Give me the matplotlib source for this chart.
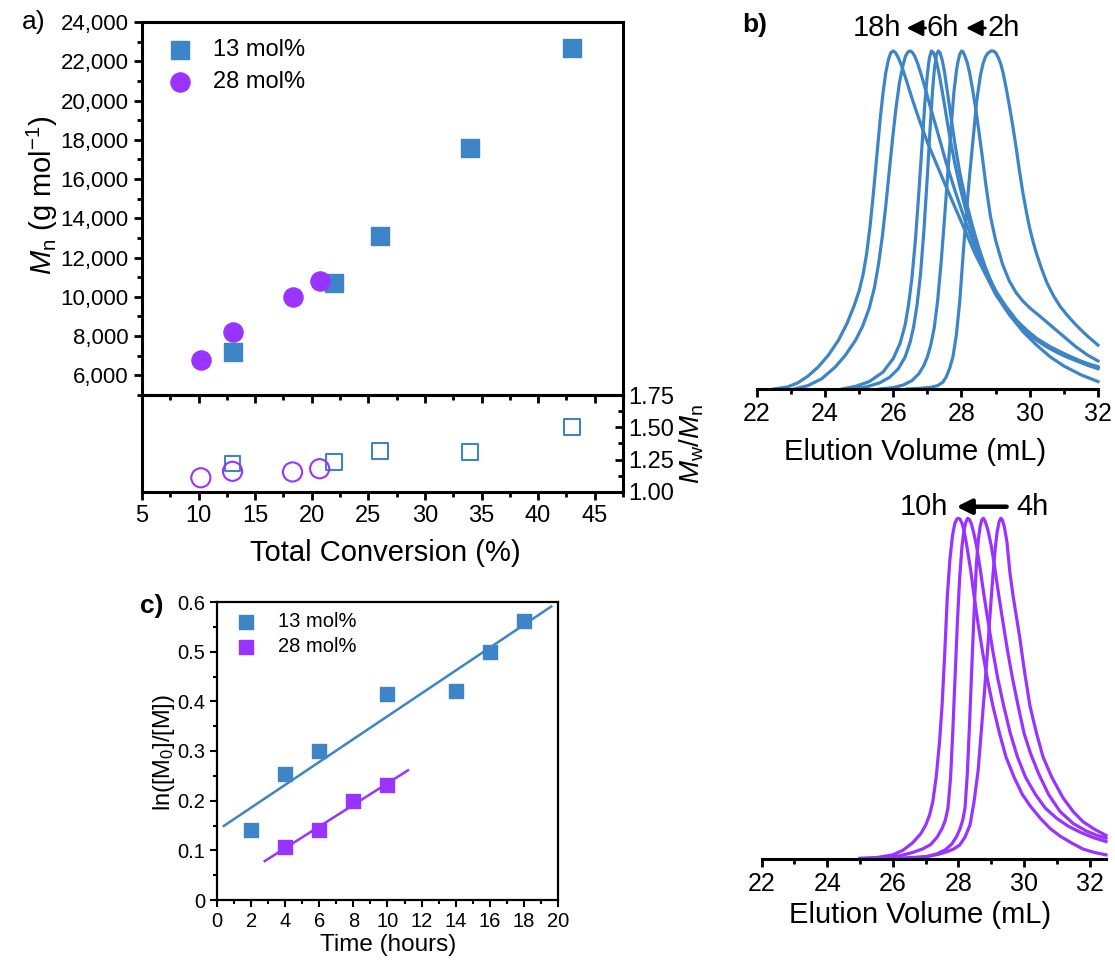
import matplotlib
matplotlib.use('Agg')
import matplotlib.pyplot as plt
import numpy as np
from matplotlib.ticker import MultipleLocator, StrMethodFormatter

plt.rcParams['font.family'] = ['Liberation Sans', 'DejaVu Sans']
plt.rcParams['mathtext.fontset'] = 'custom'
plt.rcParams['mathtext.rm'] = 'Liberation Sans'
plt.rcParams['mathtext.it'] = 'Liberation Sans:italic'

BLUE = '#3d85c6'
PURPLE = '#9933ff'

# ---- panel a data: Mn and dispersity vs total conversion
conv_13 = [13.0, 22.0, 26.0, 34.0, 43.0]
mn_13 = [7200, 10700, 13100, 17600, 22700]
disp_13 = [1.22, 1.23, 1.32, 1.307, 1.50]
conv_28 = [10.2, 13.0, 18.3, 20.7]
mn_28 = [6800, 8200, 10000, 10800]
disp_28 = [1.11, 1.16, 1.155, 1.18]

# ---- panel c data: kinetics
time_13 = [2, 4, 6, 10, 14, 16, 18]
lnm_13 = [0.14, 0.253, 0.30, 0.415, 0.42, 0.50, 0.562]
time_28 = [4, 6, 8, 10]
lnm_28 = [0.107, 0.14, 0.20, 0.232]
fit_range_13 = [0.4, 19.6]
fit_range_28 = [2.8, 11.2]

# ---- panel b data: GPC traces (normalised), 13 mol%
gpc13_a_x = [22.5, 22.9, 23.2, 23.5, 23.8, 24.1, 24.4, 24.65, 24.85, 25.0, 25.12, 25.22, 25.32, 25.42,
             25.52, 25.62, 25.7, 25.78, 25.86, 25.93, 26.0, 26.07, 26.15, 26.25, 26.38, 26.55, 26.75,
             27.0, 27.25, 27.5, 27.8, 28.1, 28.4, 28.7, 29.0, 29.4, 29.8, 30.2, 30.6, 31.0, 31.5, 32.0]
gpc13_a_y = [0.0, 0.006, 0.018, 0.038, 0.065, 0.1, 0.145, 0.195, 0.245, 0.29, 0.34, 0.4, 0.48, 0.58,
             0.69, 0.8, 0.875, 0.935, 0.975, 0.995, 1.0, 0.995, 0.98, 0.955, 0.915, 0.86, 0.8,
             0.73, 0.67, 0.61, 0.54, 0.47, 0.4, 0.34, 0.28, 0.22, 0.17, 0.13, 0.095, 0.068, 0.042, 0.022]
gpc13_b_x = [23.1, 23.5, 23.9, 24.3, 24.6, 24.9, 25.1, 25.3, 25.45, 25.57, 25.68, 25.78, 25.88, 25.98,
             26.08, 26.18, 26.28, 26.36, 26.44, 26.5, 26.56, 26.63, 26.72, 26.82, 26.95, 27.1, 27.3,
             27.55, 27.8, 28.1, 28.4, 28.7, 29.0, 29.3, 29.6, 29.9, 30.2, 30.6, 31.0, 31.5, 32.0]
gpc13_b_y = [0.0, 0.01, 0.03, 0.065, 0.1, 0.145, 0.185, 0.24, 0.3, 0.37, 0.45, 0.54, 0.64, 0.74,
             0.83, 0.905, 0.955, 0.985, 0.998, 1.0, 0.996, 0.985, 0.962, 0.93, 0.885, 0.83, 0.76,
             0.67, 0.59, 0.5, 0.42, 0.35, 0.29, 0.245, 0.205, 0.175, 0.15, 0.125, 0.105, 0.082, 0.062]
gpc13_c_x = [24.5, 24.9, 25.3, 25.7, 26.0, 26.2, 26.35, 26.45, 26.55, 26.65, 26.75, 26.85, 26.93, 27.0,
             27.06, 27.12, 27.18, 27.25, 27.33, 27.42, 27.52, 27.65, 27.8, 27.95, 28.1, 28.3, 28.5,
             28.75, 29.0, 29.3, 29.6, 29.9, 30.2, 30.5, 30.8, 31.1, 31.4, 31.7, 32.0]
gpc13_c_y = [0.0, 0.008, 0.022, 0.05, 0.09, 0.135, 0.19, 0.25, 0.33, 0.44, 0.58, 0.73, 0.85, 0.93,
             0.98, 1.0, 0.995, 0.975, 0.94, 0.89, 0.83, 0.75, 0.67, 0.6, 0.54, 0.47, 0.41,
             0.34, 0.29, 0.24, 0.2, 0.17, 0.145, 0.125, 0.108, 0.094, 0.082, 0.07, 0.06]
gpc13_d_x = [24.8, 25.2, 25.6, 25.9, 26.15, 26.35, 26.5, 26.6, 26.7, 26.8, 26.9, 27.0, 27.08, 27.15,
             27.21, 27.27, 27.32, 27.37, 27.43, 27.5, 27.6, 27.7, 27.8, 27.95, 28.1, 28.3, 28.5,
             28.7, 28.9, 29.1, 29.35, 29.6, 29.9, 30.2, 30.5, 30.8, 31.1, 31.4, 31.7, 32.0]
gpc13_d_y = [0.0, 0.006, 0.018, 0.035, 0.06, 0.095, 0.14, 0.185, 0.25, 0.34, 0.47, 0.63, 0.77, 0.88,
             0.95, 0.99, 1.0, 0.995, 0.975, 0.94, 0.87, 0.8, 0.73, 0.64, 0.57, 0.49, 0.42,
             0.36, 0.31, 0.27, 0.23, 0.2, 0.17, 0.145, 0.125, 0.11, 0.097, 0.086, 0.075, 0.066]
gpc13_e_x = [25.6, 26.0, 26.3, 26.55, 26.75, 26.9, 27.0, 27.1, 27.2, 27.3, 27.4, 27.5, 27.6, 27.7,
             27.78, 27.85, 27.9, 27.95, 28.0, 28.05, 28.1, 28.17, 28.24, 28.32, 28.4, 28.5, 28.6,
             28.72, 28.85, 29.0, 29.2, 29.4, 29.6, 29.8, 30.0, 30.3, 30.65, 31.0, 31.35, 31.7, 32.0]
gpc13_e_y = [0.0, 0.004, 0.012, 0.025, 0.045, 0.07, 0.095, 0.13, 0.18, 0.26, 0.37, 0.5, 0.64, 0.78,
             0.88, 0.94, 0.97, 0.99, 1.0, 0.997, 0.985, 0.965, 0.935, 0.89, 0.84, 0.77, 0.695,
             0.6, 0.51, 0.44, 0.37, 0.32, 0.285, 0.26, 0.24, 0.215, 0.185, 0.155, 0.125, 0.1, 0.083]
gpc13_f_x = [26.4, 26.8, 27.1, 27.3, 27.45, 27.55, 27.65, 27.75, 27.85, 27.95, 28.05, 28.15, 28.25,
             28.35, 28.45, 28.55, 28.63, 28.7, 28.76, 28.82, 28.87, 28.92, 28.97, 29.02, 29.08, 29.15,
             29.22, 29.3, 29.4, 29.5, 29.6, 29.7, 29.8, 29.9, 30.0, 30.1, 30.2, 30.35, 30.5, 30.7,
             30.9, 31.1, 31.35, 31.6, 31.8, 32.0]
gpc13_f_y = [0.0, 0.002, 0.005, 0.01, 0.02, 0.035, 0.06, 0.095, 0.16, 0.26, 0.4, 0.53, 0.645,
             0.75, 0.855, 0.925, 0.962, 0.982, 0.992, 0.997, 1.0, 1.0, 0.998, 0.992, 0.98, 0.962,
             0.935, 0.895, 0.84, 0.78, 0.715, 0.645, 0.58, 0.525, 0.475, 0.435, 0.4, 0.355, 0.315, 0.275,
             0.243, 0.218, 0.19, 0.165, 0.147, 0.13]

# ---- GPC traces, 28 mol%
gpc28_a_x = [25.0, 25.5, 26.0, 26.3, 26.6, 26.85, 27.0, 27.12, 27.22, 27.32, 27.42, 27.5, 27.58, 27.66,
             27.74, 27.82, 27.89, 27.95, 28.0, 28.05, 28.11, 28.18, 28.27, 28.37, 28.48, 28.6, 28.75,
             28.9, 29.05, 29.25, 29.45, 29.7, 29.95, 30.2, 30.5, 30.8, 31.1, 31.45, 31.8, 32.15, 32.5]
gpc28_a_y = [0.003, 0.005, 0.013, 0.026, 0.048, 0.075, 0.1, 0.13, 0.17, 0.24, 0.34, 0.45, 0.6, 0.77,
             0.88, 0.95, 0.985, 0.998, 1.0, 0.997, 0.985, 0.96, 0.91, 0.85, 0.77, 0.69, 0.6,
             0.52, 0.45, 0.37, 0.3, 0.24, 0.19, 0.155, 0.12, 0.09, 0.068, 0.048, 0.03, 0.02, 0.013]
gpc28_b_x = [25.0, 25.7, 26.2, 26.6, 26.9, 27.15, 27.35, 27.5, 27.6, 27.68, 27.76, 27.83, 27.9, 27.97,
             28.04, 28.11, 28.17, 28.23, 28.28, 28.33, 28.39, 28.46, 28.55, 28.65, 28.77, 28.9, 29.05,
             29.2, 29.38, 29.58, 29.8, 30.05, 30.35, 30.65, 31.0, 31.35, 31.7, 32.1, 32.5]
gpc28_b_y = [0.002, 0.004, 0.01, 0.02, 0.03, 0.043, 0.065, 0.09, 0.115, 0.15, 0.24, 0.38, 0.54, 0.7,
             0.83, 0.92, 0.965, 0.99, 1.0, 0.997, 0.985, 0.96, 0.92, 0.86, 0.78, 0.7, 0.61,
             0.53, 0.45, 0.37, 0.3, 0.24, 0.19, 0.15, 0.12, 0.097, 0.08, 0.064, 0.052]
gpc28_c_x = [25.0, 26.2, 26.7, 27.03, 27.35, 27.6, 27.8, 27.95, 28.05, 28.13, 28.2, 28.27, 28.34, 28.41,
             28.48, 28.55, 28.61, 28.66, 28.71, 28.76, 28.82, 28.9, 29.0, 29.1, 29.22, 29.35, 29.5,
             29.65, 29.82, 30.0, 30.2, 30.45, 30.75, 31.1, 31.5, 31.9, 32.2, 32.5]
gpc28_c_y = [0.001, 0.002, 0.004, 0.008, 0.016, 0.028, 0.045, 0.068, 0.09, 0.115, 0.15, 0.25, 0.4, 0.57,
             0.73, 0.87, 0.94, 0.975, 0.995, 1.0, 0.99, 0.965, 0.92, 0.86, 0.78, 0.7, 0.61,
             0.53, 0.45, 0.37, 0.31, 0.25, 0.19, 0.14, 0.105, 0.083, 0.071, 0.062]
gpc28_d_x = [25.0, 26.2, 27.03, 27.4, 27.64, 27.85, 28.04, 28.2, 28.35, 28.47, 28.6, 28.7, 28.8, 28.9,
             28.98, 29.05, 29.12, 29.18, 29.24, 29.29, 29.34, 29.4, 29.48, 29.57, 29.67, 29.77, 29.87,
             30.0, 30.18, 30.38, 30.58, 30.85, 31.19, 31.5, 31.8, 32.15, 32.5]
gpc28_d_y = [0.001, 0.003, 0.008, 0.015, 0.022, 0.03, 0.042, 0.065, 0.1, 0.165, 0.26, 0.38, 0.5, 0.63,
             0.74, 0.83, 0.91, 0.96, 0.99, 1.0, 0.995, 0.975, 0.93, 0.84, 0.77, 0.71, 0.65,
             0.56, 0.45, 0.37, 0.3, 0.24, 0.18, 0.14, 0.11, 0.088, 0.07]

W, H = 1115, 963
fig = plt.figure(figsize=(W / 100, H / 100), dpi=100)


def box(left, top, right, bottom):
    return [left / W, 1 - bottom / H, (right - left) / W, (bottom - top) / H]


# ================= panel a =================
ax_lo = fig.add_axes(box(142, 395, 623, 492), facecolor='none')
ax_hi = fig.add_axes(box(142, 22, 623, 395), facecolor='none')

ax_hi.scatter(conv_13, mn_13, marker='s', s=150, color=BLUE, label='13 mol%', zorder=3)
ax_hi.scatter(conv_28, mn_28, marker='o', s=190, color=PURPLE, label='28 mol%', zorder=3)
ax_hi.set_xlim(5, 47.5)
ax_hi.set_ylim(5000, 24000)
ax_hi.yaxis.set_major_locator(MultipleLocator(2000))
ax_hi.yaxis.set_minor_locator(MultipleLocator(1000))
ax_hi.yaxis.set_major_formatter(StrMethodFormatter('{x:,.0f}'))
ax_hi.xaxis.set_major_locator(MultipleLocator(5))
ax_hi.xaxis.set_minor_locator(MultipleLocator(2.5))
ax_hi.tick_params(axis='both', which='both', direction='out', width=2, labelsize=16,
                  top=False, right=False, labelbottom=False)
ax_hi.tick_params(which='major', length=6)
ax_hi.tick_params(which='minor', length=3.5)
for s in ax_hi.spines.values():
    s.set_linewidth(2.2)
ax_hi.legend(loc='upper left', bbox_to_anchor=(0.055, 0.955), frameon=False, fontsize=17,
             handlelength=1.0, handletextpad=0.9, labelspacing=0.45, borderpad=0, borderaxespad=0)

ax_lo.scatter(conv_13, disp_13, marker='s', s=130, facecolors='none', edgecolors=BLUE, linewidths=1.5)
ax_lo.scatter(conv_28, disp_28, marker='o', s=190, facecolors='none', edgecolors=PURPLE, linewidths=1.5)
ax_lo.set_xlim(5, 47.5)
ax_lo.set_ylim(1.0, 1.75)
ax_lo.xaxis.set_major_locator(MultipleLocator(5))
ax_lo.xaxis.set_minor_locator(MultipleLocator(2.5))
ax_lo.yaxis.set_major_locator(MultipleLocator(0.25))
ax_lo.yaxis.set_minor_locator(MultipleLocator(0.125))
ax_lo.yaxis.set_major_formatter(StrMethodFormatter('{x:.2f}'))
ax_lo.tick_params(axis='x', which='both', direction='out', width=2, labelsize=17, top=False)
ax_lo.tick_params(axis='y', which='both', direction='in', width=2, labelsize=17,
                  left=False, labelleft=False, right=True, labelright=True)
ax_lo.tick_params(which='major', length=6)
ax_lo.tick_params(which='minor', length=3.5)
for s in ax_lo.spines.values():
    s.set_linewidth(2.2)

fig.text(22 / W, 1 - 22 / H, 'a)', fontsize=19, va='center', ha='left')
fig.text(42 / W, 1 - 195 / H, r'$M_\mathrm{n}$ (g mol$^{-1}$)', fontsize=21, rotation=90,
         ha='center', va='center')
fig.text(692 / W, 1 - 444 / H, r'$M_\mathrm{w}$/$M_\mathrm{n}$', fontsize=20, rotation=90,
         ha='center', va='center')
fig.text(385 / W, 1 - 553 / H, 'Total Conversion (%)', fontsize=21, ha='center', va='center')

# ================= panel b =================
blue_traces = [(gpc13_a_x, gpc13_a_y), (gpc13_b_x, gpc13_b_y), (gpc13_c_x, gpc13_c_y),
               (gpc13_d_x, gpc13_d_y), (gpc13_e_x, gpc13_e_y), (gpc13_f_x, gpc13_f_y)]
purple_traces = [(gpc28_a_x, gpc28_a_y), (gpc28_b_x, gpc28_b_y),
                 (gpc28_c_x, gpc28_c_y), (gpc28_d_x, gpc28_d_y)]


def gpc_axes(ax, traces, color, xmax):
    for tx, ty in traces:
        ax.plot(tx, ty, color=color, lw=2.3, clip_on=False, solid_joinstyle='round')
    ax.set_xlim(22, xmax)
    ax.set_ylim(0, 1)
    for side in ['left', 'right', 'top']:
        ax.spines[side].set_visible(False)
    ax.spines['bottom'].set_linewidth(2.2)
    ax.set_yticks([])
    ax.xaxis.set_major_locator(MultipleLocator(2))
    ax.xaxis.set_minor_locator(MultipleLocator(1))
    ax.tick_params(axis='x', which='both', direction='out', width=2, labelsize=18)
    ax.tick_params(which='major', length=6)
    ax.tick_params(which='minor', length=3.5)


ax_b1 = fig.add_axes(box(756.7, 51, 1098, 389), facecolor='none')
gpc_axes(ax_b1, blue_traces, BLUE, 32)
ax_b2 = fig.add_axes(box(761.7, 518.3, 1106, 859.3), facecolor='none')
gpc_axes(ax_b2, purple_traces, PURPLE, 32.5)

fig.text(915 / W, 1 - 452 / H, 'Elution Volume (mL)', fontsize=21, ha='center', va='center')
fig.text(920 / W, 1 - 915 / H, 'Elution Volume (mL)', fontsize=21, ha='center', va='center')
fig.text(742 / W, 1 - 25 / H, 'b)', fontsize=19, fontweight='bold', va='center', ha='left')

ty1 = 1.068
for lab, xc in [('18h', 25.53), ('6h', 27.45), ('2h', 29.25)]:
    ax_b1.text(xc, ty1, lab, fontsize=21, ha='center', va='center', clip_on=False)
for x0, x1 in [(26.95, 26.39), (28.7, 28.13)]:
    ax_b1.annotate('', xy=(x1, ty1), xytext=(x0, ty1), annotation_clip=False,
                   arrowprops=dict(arrowstyle='-|>', color='k', lw=2, mutation_scale=24,
                                   shrinkA=0, shrinkB=0))

ty2 = 1.034
for lab, xc in [('10h', 26.95), ('4h', 30.25)]:
    ax_b2.text(xc, ty2, lab, fontsize=21, ha='center', va='center', clip_on=False)
ax_b2.annotate('', xy=(27.94, ty2), xytext=(29.47, ty2), annotation_clip=False,
               arrowprops=dict(arrowstyle='-|>', color='k', lw=3.2, mutation_scale=22,
                               shrinkA=0, shrinkB=0))

# ================= panel c =================
ax_c = fig.add_axes(box(217, 602, 558, 900))
ax_c.scatter(time_13, lnm_13, marker='s', s=100, color=BLUE, label='13 mol%', zorder=3)
ax_c.scatter(time_28, lnm_28, marker='s', s=100, color=PURPLE, label='28 mol%', zorder=3)
p13 = np.polyfit(time_13, lnm_13, 1)
p28 = np.polyfit(time_28, lnm_28, 1)
ax_c.plot(fit_range_13, np.polyval(p13, fit_range_13), color=BLUE, lw=1.8, zorder=2)
ax_c.plot(fit_range_28, np.polyval(p28, fit_range_28), color=PURPLE, lw=1.8, zorder=2)
ax_c.set_xlim(0, 20)
ax_c.set_ylim(0, 0.6)
ax_c.xaxis.set_major_locator(MultipleLocator(2))
ax_c.xaxis.set_minor_locator(MultipleLocator(1))
ax_c.yaxis.set_major_locator(MultipleLocator(0.1))
ax_c.yaxis.set_minor_locator(MultipleLocator(0.05))
ax_c.yaxis.set_major_formatter(StrMethodFormatter('{x:g}'))
ax_c.tick_params(axis='both', which='both', direction='out', width=1.5, labelsize=14.5,
                 top=False, right=False)
ax_c.tick_params(which='major', length=5)
ax_c.tick_params(which='minor', length=3)
for s in ax_c.spines.values():
    s.set_linewidth(1.6)
ax_c.legend(loc='upper left', bbox_to_anchor=(0.055, 0.965), frameon=False, fontsize=14.5,
            handlelength=1.0, handletextpad=1.1, labelspacing=0.3, borderpad=0, borderaxespad=0)

fig.text(388 / W, 1 - 945 / H, 'Time (hours)', fontsize=17.5, ha='center', va='center')
fig.text(164 / W, 1 - 752 / H, r'ln([M$_0$]/[M])', fontsize=17, rotation=90,
         ha='center', va='center')
fig.text(140 / W, 1 - 606 / H, 'c)', fontsize=19, fontweight='bold', va='center', ha='left')

fig.savefig('out.png', dpi=100)
